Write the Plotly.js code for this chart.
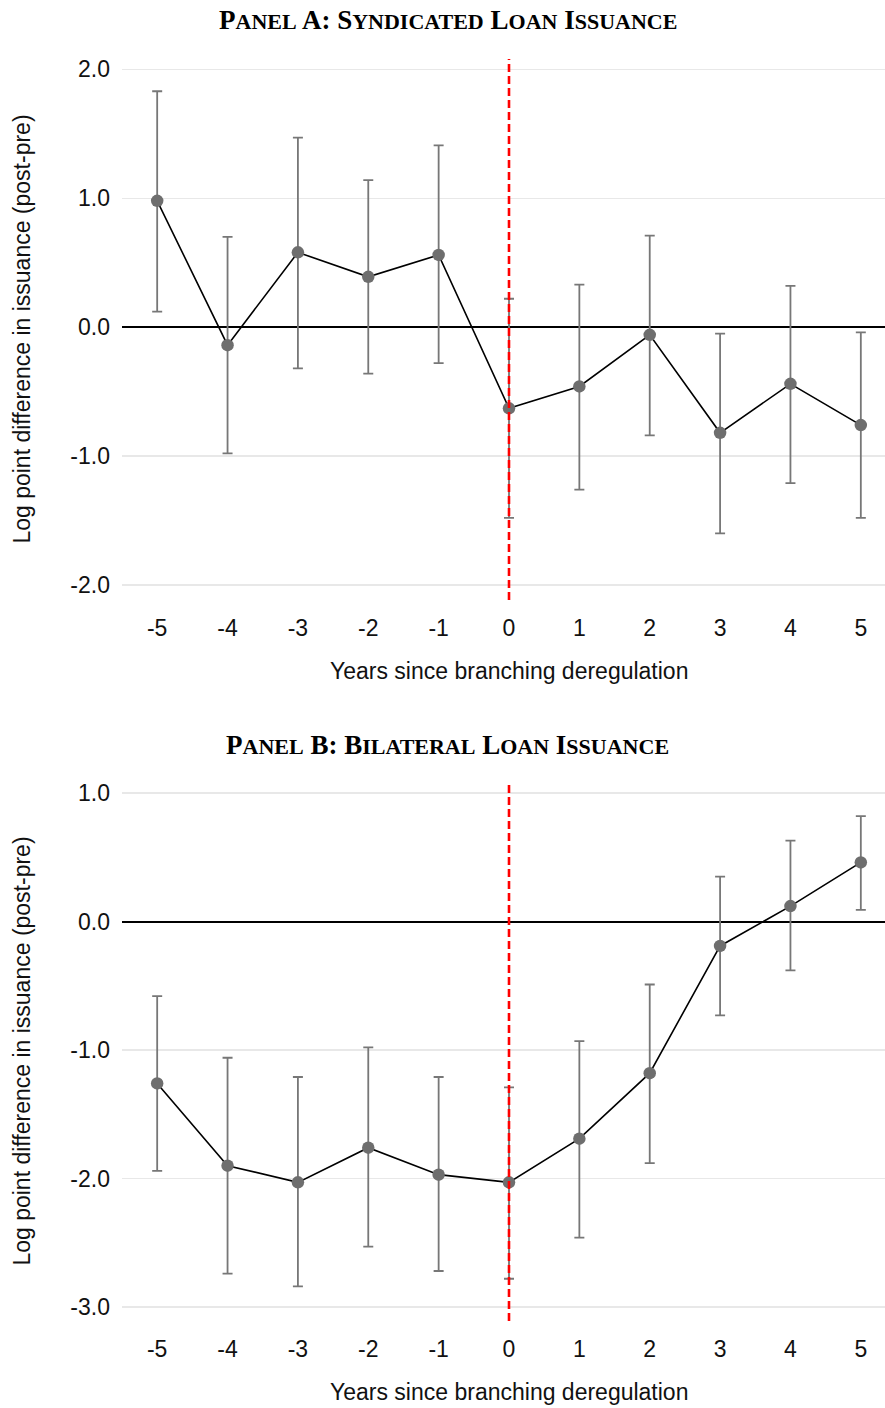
<!DOCTYPE html>
<html>
<head>
<meta charset="utf-8">
<script src="https://cdn.plot.ly/plotly-3.0.1.min.js"></script>
<style>
html, body { margin: 0; padding: 0; overflow: hidden; background: #fff; }
#chart { width: 896px; height: 1408px; }
</style>
</head>
<body>
<div id="chart"></div>
<script>
// ---- Data ----
const years = [-5, -4, -3, -2, -1, 0, 1, 2, 3, 4, 5];
const xTickLabels = ["-5", "-4", "-3", "-2", "-1", "0", "1", "2", "3", "4", "5"];

// Panel A: Syndicated loan issuance
const syndEst = [0.98, -0.14, 0.58, 0.39, 0.56, -0.63, -0.46, -0.06, -0.82, -0.44, -0.76];
const syndHigh = [1.83, 0.70, 1.47, 1.14, 1.41, 0.22, 0.33, 0.71, -0.05, 0.32, -0.04];
const syndLow = [0.12, -0.98, -0.32, -0.36, -0.28, -1.48, -1.26, -0.84, -1.60, -1.21, -1.48];

// Panel B: Bilateral loan issuance
const bilEst = [-1.26, -1.90, -2.03, -1.76, -1.97, -2.03, -1.69, -1.18, -0.19, 0.12, 0.46];
const bilHigh = [-0.58, -1.06, -1.21, -0.98, -1.21, -1.29, -0.93, -0.49, 0.35, 0.63, 0.82];
const bilLow = [-1.94, -2.74, -2.84, -2.53, -2.72, -2.78, -2.46, -1.88, -0.73, -0.38, 0.09];

const yTickValsA = [2, 1, 0, -1, -2];
const yTickTextA = ["2.0", "1.0", "0.0", "-1.0", "-2.0"];
const yTickValsB = [1, 0, -1, -2, -3];
const yTickTextB = ["1.0", "0.0", "-1.0", "-2.0", "-3.0"];

const titleA = "Panel A: Syndicated Loan Issuance";
const titleB = "Panel B: Bilateral Loan Issuance";
const yTitle = "Log point difference in issuance (post-pre)";
const xTitle = "Years since branching deregulation";

// ---- Styles ----
const sans = "Liberation Sans, Arial, Helvetica, sans-serif";
const serif = "Liberation Serif, Times New Roman, serif";
const axisFont = { family: sans, size: 23, color: "#111" };
const pointGray = "#6e6e6e";
const barGray = "#777777";

// small caps look: lowercase runs are enlarged so the synthesized
// small capitals get the proportions seen in the reference
function smallCapsMarkup(str) {
  return str.replace(/[a-z]+/g, m => '<span style="font-size:31px">' + m + '</span>');
}

function panelTraces(est, hi, lo, xa, ya) {
  const plus = hi.map((h, i) => h - est[i]);
  const minus = lo.map((l, i) => est[i] - l);
  return [
    {
      x: years, y: est, xaxis: xa, yaxis: ya, type: "scatter", mode: "lines",
      line: { color: "#000", width: 1.6 }, hoverinfo: "skip", showlegend: false
    },
    {
      x: years, y: est, xaxis: xa, yaxis: ya, type: "scatter", mode: "markers",
      marker: { color: pointGray, size: 12.5 },
      error_y: { type: "data", array: plus, arrayminus: minus, visible: true,
                 color: barGray, thickness: 1.8, width: 5 },
      showlegend: false
    }
  ];
}

const data = [
  ...panelTraces(syndEst, syndHigh, syndLow, "x", "y"),
  ...panelTraces(bilEst, bilHigh, bilLow, "x2", "y2")
];

const xaxisBase = {
  range: [-5.5, 5.5], tickvals: years, ticktext: xTickLabels,
  showgrid: false, zeroline: false, showline: false, ticks: "",
  tickfont: axisFont, ticklabelstandoff: 12, fixedrange: true
};
const yaxisBase = {
  showgrid: true, gridcolor: "#e8e8e8", gridwidth: 1.3,
  zeroline: true, zerolinecolor: "#000", zerolinewidth: 2,
  showline: false, ticks: "", tickfont: axisFont, ticklabelstandoff: 11
};

const domB = [0, 0.4271];
const domA = [0.5713, 1];

const titleFont = { family: serif, size: 27, color: "#000", weight: 700, variant: "small-caps" };

const layout = {
  width: 896, height: 1408,
  margin: { l: 122, r: 0, t: 59, b: 87 },
  paper_bgcolor: "#fff", plot_bgcolor: "#fff",
  xaxis: Object.assign({}, xaxisBase, { anchor: "y" }),
  yaxis: Object.assign({}, yaxisBase, { domain: domA, range: [-2.117, 2.08],
                                         tickvals: yTickValsA, ticktext: yTickTextA, anchor: "x" }),
  xaxis2: Object.assign({}, xaxisBase, { anchor: "y2" }),
  yaxis2: Object.assign({}, yaxisBase, { domain: domB, range: [-3.109, 1.086],
                                          tickvals: yTickValsB, ticktext: yTickTextB, anchor: "x2" }),
  shapes: [
    { type: "line", xref: "x", yref: "y domain", x0: 0, x1: 0, y0: 0, y1: 1,
      line: { color: "#ff0000", width: 2.6, dash: "8px,4px" }, layer: "above" },
    { type: "line", xref: "x2", yref: "y2 domain", x0: 0, x1: 0, y0: 0, y1: 1,
      line: { color: "#ff0000", width: 2.6, dash: "8px,4px" }, layer: "above" }
  ],
  annotations: [
    { text: smallCapsMarkup(titleA), xref: "paper", yref: "paper", x: 0.421, y: 1.0318,
      xanchor: "center", yanchor: "middle", showarrow: false, font: titleFont },
    { text: smallCapsMarkup(titleB), xref: "paper", yref: "paper", x: 0.421, y: 0.4578,
      xanchor: "center", yanchor: "middle", showarrow: false, font: titleFont },
    { text: yTitle, xref: "paper", yref: "paper", x: -0.129, y: 0.7857, textangle: -90,
      xanchor: "center", yanchor: "middle", showarrow: false, font: axisFont },
    { text: yTitle, xref: "paper", yref: "paper", x: -0.129, y: 0.2136, textangle: -90,
      xanchor: "center", yanchor: "middle", showarrow: false, font: axisFont },
    { text: xTitle, xref: "paper", yref: "paper", x: 0.5, y: 0.515,
      xanchor: "center", yanchor: "middle", showarrow: false, font: axisFont },
    { text: xTitle, xref: "paper", yref: "paper", x: 0.5, y: -0.0563,
      xanchor: "center", yanchor: "middle", showarrow: false, font: axisFont }
  ]
};

Plotly.newPlot("chart", data, layout, { displayModeBar: false, staticPlot: true });
</script>
</body>
</html>
